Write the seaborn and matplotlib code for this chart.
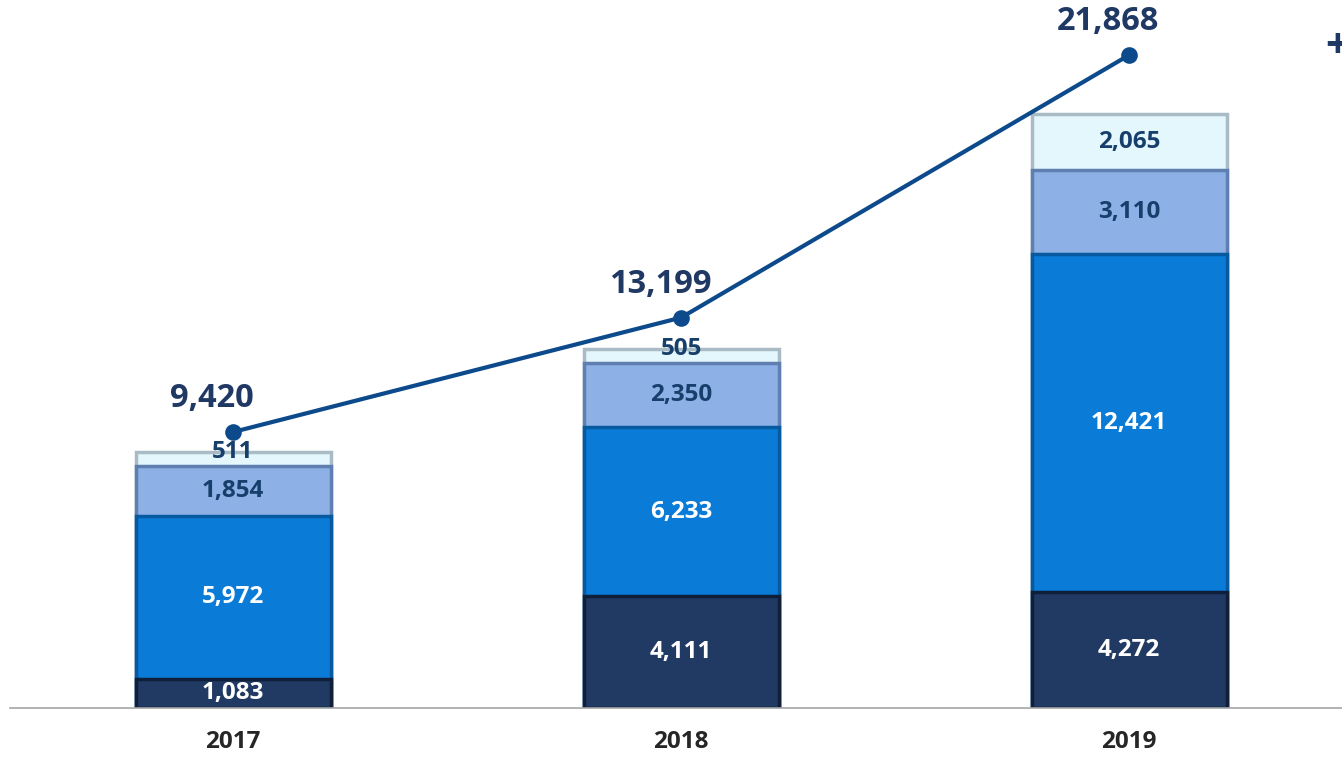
import numpy as np
import pandas as pd
import matplotlib
matplotlib.use("Agg")
import matplotlib.pyplot as plt
import seaborn as sns

# ------------------------------
# data
# ------------------------------
years = ["2017", "2018", "2019"]
seg_bottom = [1083, 4111, 4272]
seg_mid = [5972, 6233, 12421]
seg_upper = [1854, 2350, 3110]
seg_top = [511, 505, 2065]
totals = [9420, 13199, 21868]

segments = [seg_bottom, seg_mid, seg_upper, seg_top]
fills = ["#213a63", "#0a7bd6", "#8db0e6", "#e4f7fc"]
edges = ["#0f1f3a", "#075aa0", "#5f7fb0", "#a9bcc6"]
label_colors = ["white", "white", "#173f6b", "#173f6b"]

sns.set_theme(style="white")
plt.rcParams["font.family"] = ["Open Sans", "DejaVu Sans"]

fig = plt.figure(figsize=(13.42, 7.6), dpi=100)
ax = fig.add_axes([10 / 1342, 52 / 760, 1 - 10 / 1342, 708 / 760])

# stacked bars: draw cumulative totals from the top segment down
cum = np.cumsum(np.array(segments), axis=0)
for i in range(len(segments) - 1, -1, -1):
    df = pd.DataFrame({"year": years, "value": cum[i]})
    sns.barplot(data=df, x="year", y="value", color=fills[i], width=0.435,
                edgecolor=edges[i], linewidth=2.5, saturation=1, ax=ax, zorder=2)

# segment labels
for j in range(len(years)):
    base = 0
    for i, seg in enumerate(segments):
        v = seg[j]
        y = base + v / 2 if v > 1000 else base + v
        ax.text(j, y, f"{v:,}", ha="center", va="center", fontsize=17.5,
                fontweight="bold", color=label_colors[i], zorder=5)
        base += v

ax.set_xlim(-0.498, 2.475)
ax.set_ylim(0, 26050)
ax.set_xlabel("")
ax.set_ylabel("")
ax.set_yticks([])
ax.set_xticks([])
for s in ["top", "right", "left"]:
    ax.spines[s].set_visible(False)
ax.spines["bottom"].set_color("#a6a6a6")
ax.spines["bottom"].set_linewidth(1.2)

for j, yr in enumerate(years):
    ax.text(j, -800, yr, ha="center", va="top", fontsize=17.5,
            fontweight="bold", color="#262626", clip_on=False)

# total line on a second axis
ax2 = ax.twinx()
line_df = pd.DataFrame({"x": np.arange(len(years)), "total": totals})
sns.lineplot(data=line_df, x="x", y="total", color="#0d4a8c", linewidth=3,
             marker="o", markersize=12, markeredgewidth=0, ax=ax2, zorder=6)
ax2.set_ylim(306, 23685)
ax2.set_xlim(-0.498, 2.475)
ax2.axis("off")
for j, t in enumerate(totals):
    ax2.annotate(f"{t:,}", (j, t), xytext=(-15, 12), textcoords="offset points",
                 ha="center", va="bottom", fontsize=23.5, fontweight="bold",
                 color="#1f3864")

fig.text(0.996, 0.937, "+", ha="center", va="center", fontsize=30,
         fontweight="bold", color="#1f3864")

fig.savefig("out.png", dpi=100)
